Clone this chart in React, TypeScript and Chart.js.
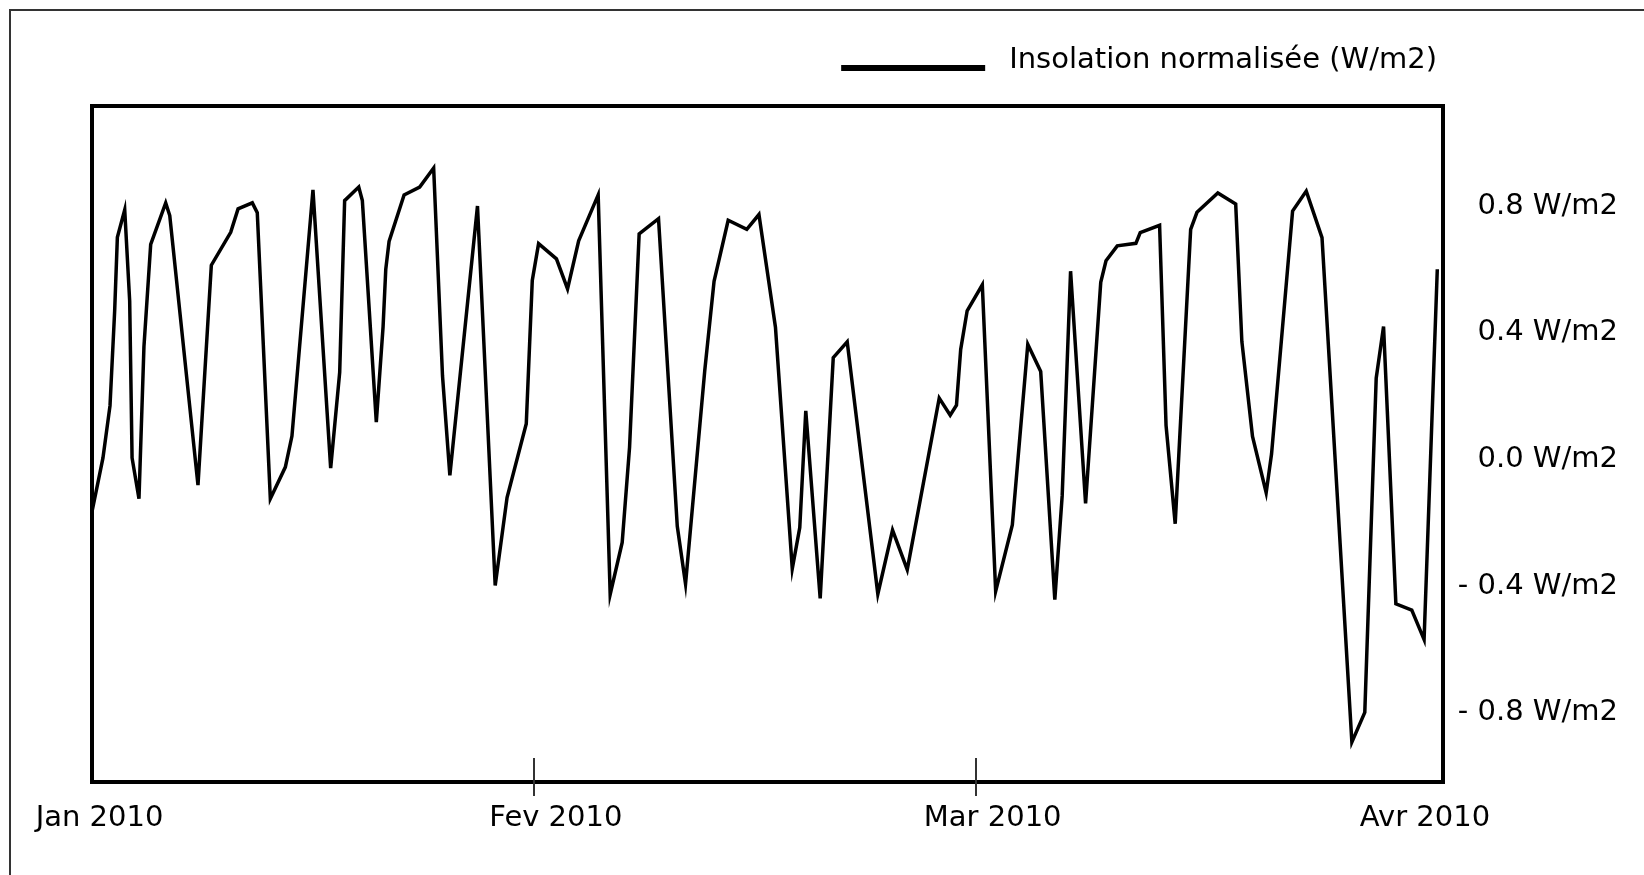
import React, { useEffect, useRef } from 'react';
import { Chart, registerables } from 'chart.js';

Chart.register(...registerables);

// ---- data (x = days since 1 Jan 2010, as placed on the chart's axis) ----
const SERIES_NAME = 'Insolation normalisée (W/m2)';

const DAYS = [
  0.0, 0.73, 1.2, 1.51, 1.69, 2.18, 2.51, 2.67, 3.13, 3.46,
  3.91, 4.91, 5.18, 7.06, 7.95, 9.24, 9.73, 10.68, 11.01, 11.88,
  12.88, 13.32, 14.72, 15.9, 16.5, 16.83, 17.77, 18.01, 18.94, 19.39,
  19.57, 19.79, 20.79, 21.83, 22.76, 23.35, 23.84, 25.68, 26.86, 27.65,
  28.93, 29.33, 29.75, 30.94, 31.68, 32.42, 33.72, 34.52, 35.32, 35.81,
  36.45, 37.74, 38.99, 39.54, 40.82, 41.44, 42.38, 43.62, 44.43, 45.53,
  46.65, 47.15, 47.55, 48.51, 49.38, 50.31, 52.35, 53.33, 54.31, 56.44,
  57.17, 57.59, 57.87, 58.3, 59.31, 60.2, 61.31, 62.34, 63.2, 64.14,
  64.63, 65.19, 66.19, 67.2, 67.55, 68.3, 69.54, 69.83, 71.12, 71.55,
  72.16, 73.19, 73.61, 75.0, 76.19, 76.6, 77.31, 78.22, 78.58, 79.98,
  80.89, 81.94, 83.93, 84.79, 85.55, 86.04, 86.86, 87.92, 88.74, 89.62,
];

const INSOLATION = [
  -0.165, 0.005, 0.17, 0.47, 0.702, 0.789, 0.501, 0.005, -0.124, 0.356,
  0.68, 0.811, 0.771, -0.081, 0.614, 0.718, 0.792, 0.811, 0.78, -0.124,
  -0.024, 0.074, 0.852, -0.027, 0.275, 0.818, 0.861, 0.818, 0.118, 0.419,
  0.601, 0.689, 0.836, 0.861, 0.921, 0.264, -0.05, 0.801, -0.398, -0.12,
  0.113, 0.566, 0.682, 0.634, 0.539, 0.691, 0.836, -0.426, -0.262, 0.038,
  0.713, 0.761, -0.211, -0.393, 0.281, 0.563, 0.756, 0.727, 0.774, 0.418,
  -0.345, -0.215, 0.154, -0.439, 0.322, 0.372, -0.425, -0.223, -0.348, 0.194,
  0.14, 0.172, 0.348, 0.47, 0.552, -0.416, -0.207, 0.364, 0.278, -0.443,
  -0.115, 0.595, -0.139, 0.56, 0.628, 0.675, 0.683, 0.717, 0.74, 0.108,
  -0.203, 0.727, 0.781, 0.842, 0.807, 0.373, 0.073, -0.105, 0.018, 0.785,
  0.848, 0.701, -0.893, -0.799, 0.257, 0.42, -0.456, -0.476, -0.569, 0.601,
];

const Y_TICKS = [-0.8, -0.4, 0, 0.4, 0.8];
const Y_MIN = -1.019;
const Y_MAX = 1.117;

const X_MIN = 0;
const X_MAX = 90;
const X_LABELS = ['Jan 2010', 'Fev 2010', 'Mar 2010', 'Avr 2010'];
const X_LABEL_POS = [0.5, 30.9, 60.0, 88.8];
const X_TICK_POS = [29.47, 58.86];

const FONT_FAMILY = '"DejaVu Sans", Verdana, sans-serif';
const Y_FONT_SIZE = 29;
const X_FONT_SIZE = 29;
const LEGEND_FONT_SIZE = 29;

const CANVAS_W = 1644;
const CANVAS_H = 875;
const PAD_RIGHT = 26;
const Y_AXIS_W = 175;

function formatY(v: number): string {
  const s = Math.abs(v).toFixed(1) + ' W/m2';
  return v < -1e-9 ? '- ' + s : s;
}

const decorPlugin = {
  id: 'decor',
  afterDraw(chart: any) {
    const ctx = chart.ctx as CanvasRenderingContext2D;
    const { left, right, top, bottom } = chart.chartArea;
    const xs = chart.scales.x;
    ctx.save();
    // plot frame
    ctx.strokeStyle = '#000';
    ctx.lineWidth = 4;
    ctx.strokeRect(left, top, right - left, bottom - top);
    // month tick marks
    ctx.strokeStyle = '#333';
    ctx.lineWidth = 2;
    X_TICK_POS.forEach((p) => {
      const px = Math.round(xs.getPixelForValue(p));
      ctx.beginPath();
      ctx.moveTo(px, bottom - 24);
      ctx.lineTo(px, bottom + 14);
      ctx.stroke();
    });
    // month labels
    ctx.fillStyle = '#000';
    ctx.font = `${X_FONT_SIZE}px ${FONT_FAMILY}`;
    ctx.textAlign = 'center';
    ctx.textBaseline = 'middle';
    X_LABELS.forEach((lab, i) => {
      ctx.fillText(lab, xs.getPixelForValue(X_LABEL_POS[i]), bottom + 36);
    });
    // legend
    ctx.font = `${LEGEND_FONT_SIZE}px ${FONT_FAMILY}`;
    const textRight = right - 6;
    const w = ctx.measureText(SERIES_NAME).width;
    const textLeft = textRight - w;
    ctx.textAlign = 'left';
    ctx.textBaseline = 'middle';
    ctx.fillText(SERIES_NAME, textLeft, top - 46);
    ctx.strokeStyle = '#000';
    ctx.lineWidth = 6;
    ctx.beginPath();
    ctx.moveTo(textLeft - 24 - 144, top - 38);
    ctx.lineTo(textLeft - 24, top - 38);
    ctx.stroke();
    ctx.restore();
  },
};

export default function App() {
  const ref = useRef<HTMLCanvasElement | null>(null);

  useEffect(() => {
    if (!ref.current) return;
    const chart = new Chart(ref.current, {
      type: 'line',
      data: {
        datasets: [
          {
            label: SERIES_NAME,
            data: DAYS.map((d, i) => ({ x: d, y: INSOLATION[i] })),
            borderColor: '#000',
            backgroundColor: '#000',
            borderWidth: 3.5,
            pointRadius: 0,
            tension: 0,
            fill: false,
          },
        ],
      },
      options: {
        animation: false,
        responsive: false,
        maintainAspectRatio: false,
        events: [],
        layout: { padding: { left: 92, top: 106, bottom: 93, right: PAD_RIGHT } },
        plugins: { legend: { display: false }, tooltip: { enabled: false } },
        scales: {
          x: {
            type: 'linear',
            min: X_MIN,
            max: X_MAX,
            display: false,
          },
          y: {
            type: 'linear',
            position: 'right',
            min: Y_MIN,
            max: Y_MAX,
            grid: { display: false, drawTicks: false },
            border: { display: false },
            afterBuildTicks: (scale: any) => {
              scale.ticks = Y_TICKS.map((v) => ({ value: v }));
            },
            afterFit: (scale: any) => {
              scale.width = Y_AXIS_W;
            },
            ticks: {
              crossAlign: 'far',
              padding: 0,
              color: '#000',
              font: { family: FONT_FAMILY, size: Y_FONT_SIZE },
              callback: (v: any) => formatY(Number(v)),
            },
          },
        },
      },
      plugins: [decorPlugin],
    });
    return () => chart.destroy();
  }, []);

  return (
    <div
      style={{
        position: 'fixed',
        left: 0,
        top: 0,
        width: CANVAS_W,
        height: CANVAS_H,
        overflow: 'hidden',
        background: '#fff',
      }}
    >
      <div
        style={{
          position: 'absolute',
          left: 9,
          top: 9,
          width: 1700,
          height: 1000,
          border: '2px solid #333',
        }}
      />
      <canvas
        ref={ref}
        width={CANVAS_W}
        height={CANVAS_H}
        style={{ position: 'absolute', left: 0, top: 0, width: CANVAS_W, height: CANVAS_H }}
      />
    </div>
  );
}
